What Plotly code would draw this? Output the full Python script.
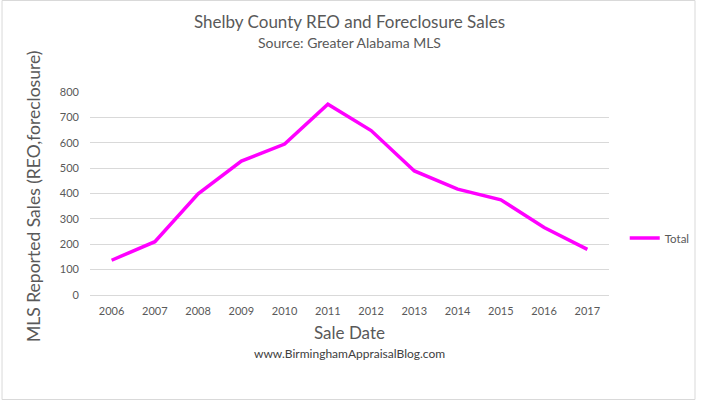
import plotly.graph_objects as go

years = ["2006", "2007", "2008", "2009", "2010", "2011", "2012", "2013", "2014", "2015", "2016", "2017"]
total = [137, 210, 399, 528, 595, 752, 648, 489, 417, 375, 266, 180]
y_ticks = [0, 100, 200, 300, 400, 500, 600, 700, 800]

W, H = 707, 401
ML, MR, MT, MB = 90, 89, 92, 106
PW, PH = W - ML - MR, H - MT - MB
FONT = "Lato, Open Sans, sans-serif"
GRAY = "#595959"

fig = go.Figure()
fig.add_trace(go.Scatter(x=years, y=total, mode="lines", name="Total",
                         line=dict(color="#FF00FF", width=3.5)))

def px_x(px):
    return (px - ML) / PW

def px_y(py):
    return (H - MB - py) / PH

fig.update_layout(
    width=W, height=H, autosize=False,
    margin=dict(l=ML, r=MR, t=MT, b=MB),
    paper_bgcolor="white", plot_bgcolor="white",
    font=dict(family=FONT, color=GRAY, size=11),
    showlegend=True,
    legend=dict(x=px_x(634), y=px_y(238), xanchor="left", yanchor="middle",
                font=dict(size=11.5, color=GRAY), bgcolor="rgba(0,0,0,0)",
                itemwidth=30),
    xaxis=dict(type="category", range=[-0.5, len(years) - 0.5], showgrid=False,
               showline=True, linecolor="#d9d9d9",
               linewidth=1, ticks="", tickfont=dict(size=11, color=GRAY),
               ticklabelstandoff=6, zeroline=False),
    yaxis=dict(range=[0, 800], tickvals=y_ticks, showgrid=True, gridcolor="#d9d9d9",
               gridwidth=1, zeroline=False, showline=False, ticks="",
               tickfont=dict(size=11, color=GRAY), ticklabelstandoff=10),
    annotations=[
        dict(text="Shelby County REO and Foreclosure Sales", x=px_x(354), y=px_y(21),
             xref="paper", yref="paper", showarrow=False, xanchor="center", yanchor="middle",
             font=dict(size=17, color=GRAY, family=FONT)),
        dict(text="Source: Greater Alabama MLS", x=px_x(354), y=px_y(43),
             xref="paper", yref="paper", showarrow=False, xanchor="center", yanchor="middle",
             font=dict(size=14, color=GRAY, family=FONT)),
        dict(text="MLS Reported Sales (REO,foreclosure)", x=px_x(32), y=px_y(196),
             xref="paper", yref="paper", showarrow=False, xanchor="center", yanchor="middle",
             textangle=-90, font=dict(size=17.5, color=GRAY, family=FONT)),
        dict(text="Sale Date", x=px_x(354), y=px_y(332),
             xref="paper", yref="paper", showarrow=False, xanchor="center", yanchor="middle",
             font=dict(size=17, color=GRAY, family=FONT)),
        dict(text="www.BirminghamAppraisalBlog.com", x=px_x(354), y=px_y(353),
             xref="paper", yref="paper", showarrow=False, xanchor="center", yanchor="middle",
             font=dict(size=12, color="#404040", family=FONT)),
    ],
    shapes=[
        dict(type="rect", xref="paper", yref="paper",
             x0=px_x(0.5), x1=px_x(W - 1.5), y0=px_y(H - 1.5), y1=px_y(0.5),
             line=dict(color="#d9d9d9", width=1), fillcolor="rgba(0,0,0,0)", layer="below"),
    ],
)

post = (
    "document.documentElement.style.margin='0';"
    "document.documentElement.style.overflow='hidden';"
    "document.body.style.margin='0';document.body.style.padding='0';"
    "document.body.style.overflow='hidden';"
)

fig.write_html("out.html",
               config={"displayModeBar": False, "responsive": False},
               default_width="707px", default_height="401px",
               post_script=post)
